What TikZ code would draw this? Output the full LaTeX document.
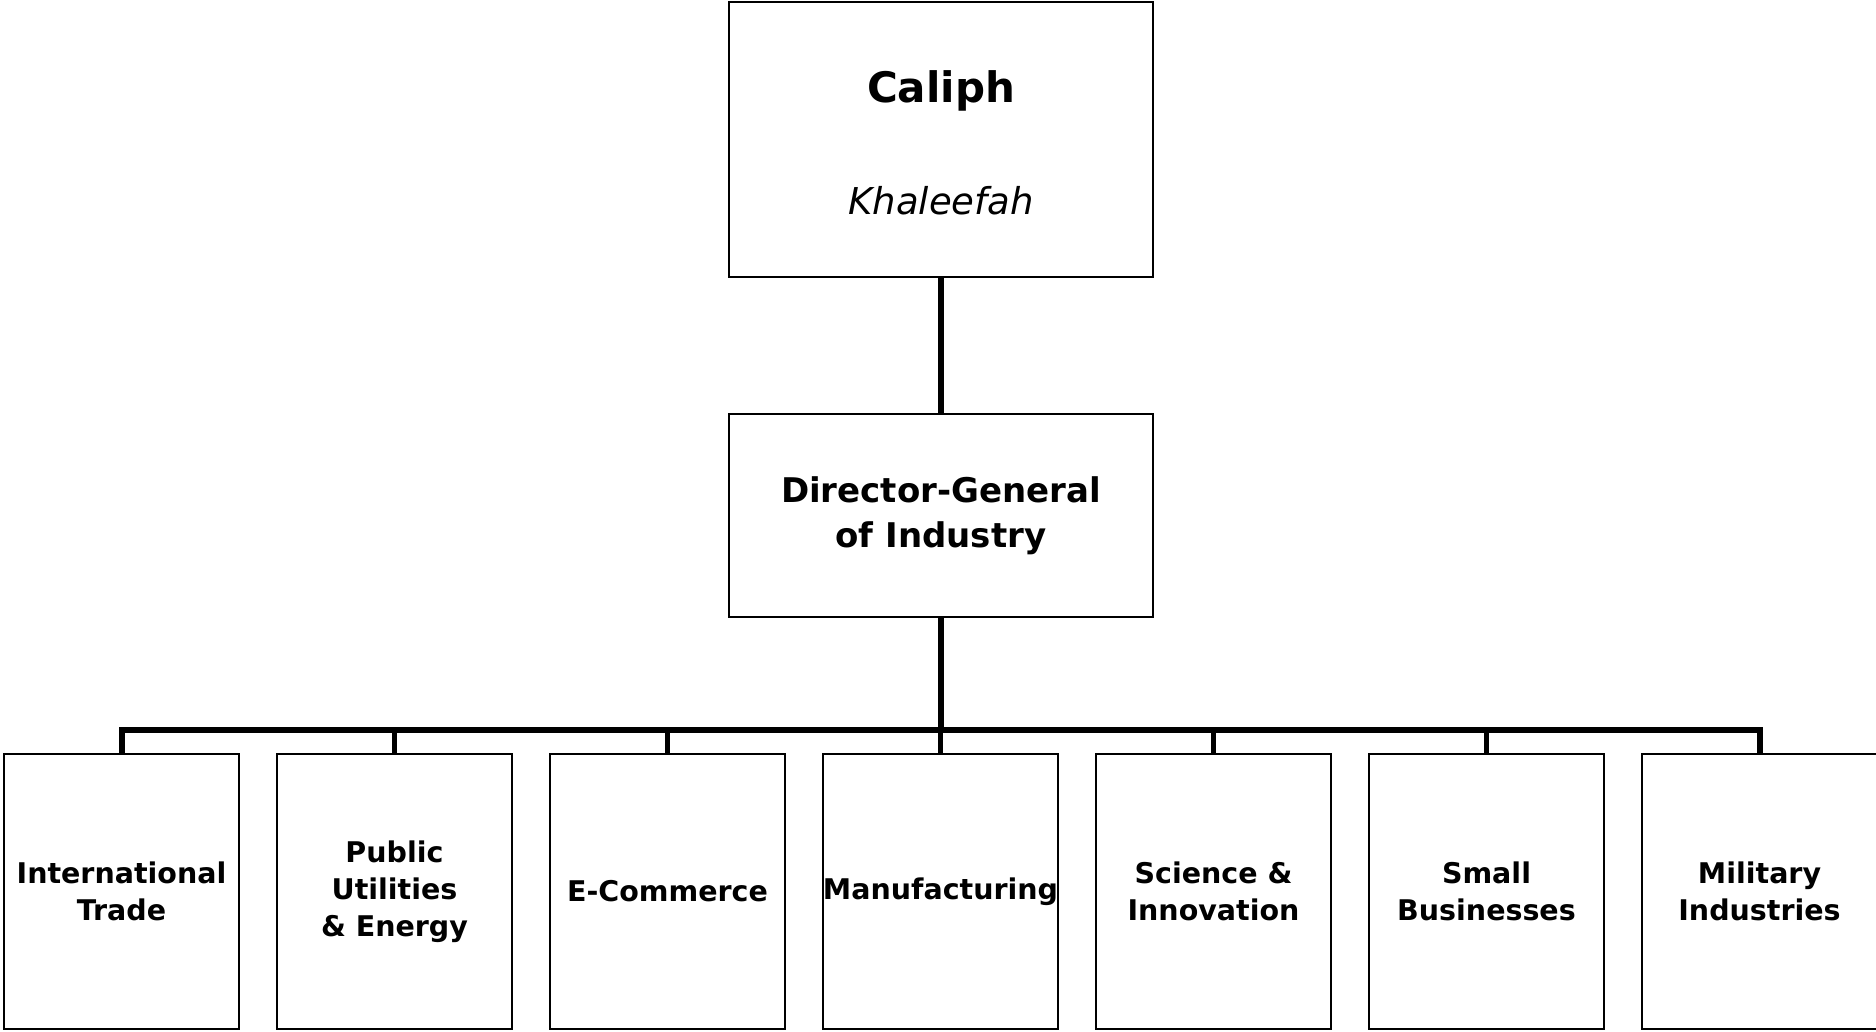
\documentclass[tikz,border=0pt]{standalone}
\usepackage{fontspec}
\setmainfont{DejaVu Sans}
\begin{document}
\begin{tikzpicture}[x=1pt,y=-1pt,
  orgbox/.style={draw=black,line width=1.5pt,fill=white,inner sep=0pt,align=center},
  topbox/.style={orgbox,minimum width=424pt,minimum height=275pt},
  midbox/.style={orgbox,minimum width=424pt,minimum height=203pt,
    font=\fontsize{34}{45}\selectfont\bfseries},
  unitbox/.style={orgbox,minimum width=235pt,minimum height=275pt,
    font=\fontsize{28.5}{37}\selectfont\bfseries},
  trunk/.style={line width=6pt,line join=miter},
  tick/.style={line width=5.5pt}]
\useasboundingbox (0,0) rectangle (1876,1032);
\coordinate (bus) at (941,730);
\node[topbox] (caliph) at (941,139.5) {};
\node[anchor=base,font=\fontsize{42}{50}\selectfont\bfseries] (caliphT) at (941,103) {Caliph};
\node[anchor=base,font=\fontsize{37}{44}\selectfont\itshape] (caliphS) at (941,215) {Khaleefah};
\node[midbox] (dg) at (941,515.5) {Director-General\\of Industry};
\node[unitbox] (b1) at (121.5,891.5) {International\\Trade};
\node[unitbox] (b2) at (394.5,891.5) {Public\\Utilities\\\& Energy};
\node[unitbox] (b3) at (667.5,891.5) {E-Commerce};
\node[unitbox] (b4) at (940.5,891.5) {Manufacturing};
\node[unitbox] (b5) at (1213.5,891.5) {Science \&\\Innovation};
\node[unitbox] (b6) at (1486.5,891.5) {Small\\Businesses};
\node[unitbox] (b7) at (1759.5,891.5) {Military\\Industries};
\draw[trunk] (caliph.south) -- (dg.north);
\draw[trunk] (dg.south) -- (bus);
\draw[trunk] (b1.north) |- (bus) -| (b7.north);
\foreach \b in {b2,b3,b4,b5,b6}
  \draw[tick] (\b.north |- bus) -- (\b.north);
\end{tikzpicture}
\end{document}
